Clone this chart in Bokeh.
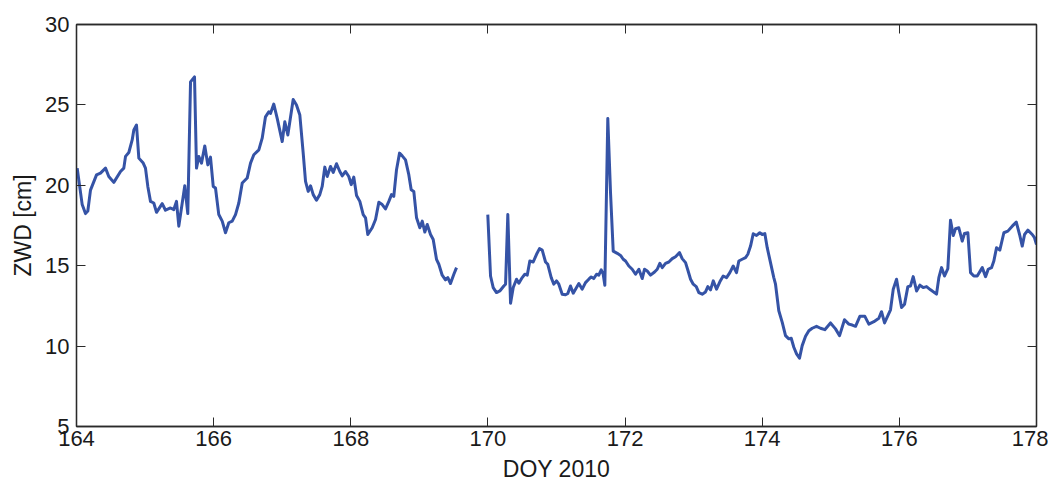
import numpy as np
from bokeh.plotting import figure
from bokeh.models import LinearAxis, FixedTicker, Range1d, CustomJSTickFormatter
from bokeh.embed import file_html
from bokeh.resources import INLINE

# DOY 2010 (days) and ZWD [cm]; NaN marks the data gap
doy = [
    164.010, 164.083, 164.131, 164.165, 164.204, 164.292, 164.350, 164.423, 164.471, 164.544,
    164.642, 164.690, 164.715, 164.763, 164.812, 164.836, 164.875, 164.909, 164.973, 165.006,
    165.040, 165.079, 165.127, 165.167, 165.250, 165.298, 165.371, 165.419, 165.458, 165.492,
    165.579, 165.623, 165.663, 165.721, 165.750, 165.784, 165.823, 165.871, 165.915, 165.954,
    165.994, 166.027, 166.075, 166.125, 166.173, 166.221, 166.271, 166.319, 166.367, 166.417,
    166.489, 166.538, 166.586, 166.659, 166.708, 166.756, 166.804, 166.829, 166.877, 166.927,
    167.000, 167.038, 167.082, 167.160, 167.208, 167.257, 167.306, 167.340, 167.379, 167.413,
    167.452, 167.500, 167.548, 167.583, 167.621, 167.656, 167.704, 167.744, 167.792, 167.840,
    167.875, 167.923, 167.971, 168.006, 168.044, 168.084, 168.132, 168.181, 168.215, 168.248,
    168.312, 168.361, 168.409, 168.458, 168.506, 168.555, 168.594, 168.627, 168.667, 168.711,
    168.750, 168.798, 168.846, 168.881, 168.919, 168.959, 169.007, 169.042, 169.080, 169.115,
    169.163, 169.202, 169.250, 169.284, 169.333, 169.381, 169.415, 169.454, 169.503, 169.542,
    169.770,
    169.998, 170.038, 170.077, 170.125, 170.173, 170.232, 170.257, 170.290, 170.330, 170.369,
    170.417, 170.451, 170.500, 170.538, 170.573, 170.611, 170.660, 170.709, 170.752, 170.792,
    170.840, 170.873, 170.923, 170.961, 171.000, 171.034, 171.083, 171.132, 171.165, 171.204,
    171.244, 171.292, 171.326, 171.375, 171.423, 171.471, 171.506, 171.544, 171.584, 171.617,
    171.652, 171.681, 171.705, 171.748, 171.788, 171.827, 171.886, 171.934, 171.973, 172.007,
    172.055, 172.104, 172.153, 172.201, 172.250, 172.284, 172.323, 172.371, 172.430, 172.469,
    172.507, 172.542, 172.590, 172.638, 172.688, 172.736, 172.794, 172.833, 172.882, 172.915,
    172.955, 172.994, 173.038, 173.076, 173.125, 173.173, 173.207, 173.246, 173.286, 173.334,
    173.382, 173.431, 173.480, 173.528, 173.577, 173.625, 173.659, 173.708, 173.757, 173.790,
    173.830, 173.869, 173.917, 173.965, 174.000, 174.038, 174.073, 174.121, 174.169, 174.194,
    174.242, 174.292, 174.340, 174.388, 174.423, 174.461, 174.501, 174.544, 174.583, 174.632,
    174.680, 174.729, 174.792, 174.850, 174.913, 174.996, 175.069, 175.128, 175.200, 175.263,
    175.313, 175.361, 175.424, 175.497, 175.555, 175.628, 175.701, 175.740, 175.784, 175.871,
    175.911, 175.959, 175.992, 176.032, 176.076, 176.124, 176.163, 176.202, 176.251, 176.299,
    176.348, 176.396, 176.455, 176.542, 176.576, 176.615, 176.659, 176.707, 176.746, 176.786,
    176.819, 176.867, 176.917, 176.950, 176.999, 177.038, 177.086, 177.136, 177.209, 177.257,
    177.296, 177.344, 177.378, 177.417, 177.465, 177.524, 177.582, 177.646, 177.705, 177.753,
    177.792, 177.826, 177.874, 177.938, 177.971, 178.000,
]
zwd = [
    21.07, 18.80, 18.24, 18.40, 19.70, 20.65, 20.76, 21.07, 20.55, 20.18,
    20.86, 21.07, 21.80, 22.04, 22.82, 23.44, 23.75, 21.69, 21.38, 21.07,
    19.93, 19.00, 18.90, 18.32, 18.86, 18.45, 18.59, 18.49, 19.00, 17.46,
    19.97, 18.24, 26.43, 26.74, 21.07, 21.79, 21.38, 22.45, 21.27, 21.75,
    19.93, 19.83, 18.18, 17.77, 17.05, 17.67, 17.77, 18.18, 18.90, 20.14,
    20.45, 21.38, 21.90, 22.20, 22.93, 24.26, 24.57, 24.47, 25.05, 24.16,
    22.72, 23.95, 23.13, 25.34, 24.99, 24.37, 22.00, 20.24, 19.62, 19.97,
    19.42, 19.07, 19.42, 19.93, 21.13, 20.55, 21.17, 20.80, 21.34, 20.86,
    20.59, 20.86, 20.55, 20.04, 20.51, 19.36, 19.00, 18.18, 17.98, 16.94,
    17.36, 17.87, 18.94, 18.80, 18.53, 19.00, 19.42, 19.31, 20.97, 22.00,
    21.83, 21.58, 20.66, 19.73, 19.62, 17.98, 17.36, 17.77, 17.09, 17.56,
    16.94, 16.63, 15.40, 15.09, 14.41, 14.12, 14.26, 13.89, 14.47, 14.88,
    float("nan"),
    18.18, 14.36, 13.64, 13.33, 13.43, 13.74, 13.85, 18.18, 12.67, 13.64,
    14.16, 13.91, 14.26, 14.47, 14.41, 15.29, 15.23, 15.71, 16.06, 15.97,
    15.23, 15.09, 14.26, 13.85, 14.06, 13.85, 13.23, 13.19, 13.27, 13.74,
    13.29, 13.64, 13.89, 13.54, 13.95, 14.16, 14.30, 14.20, 14.47, 14.41,
    14.74, 14.47, 13.79, 24.16, 19.52, 15.91, 15.77, 15.64, 15.40, 15.29,
    14.98, 14.78, 14.47, 14.78, 14.20, 14.78, 14.67, 14.41, 14.61, 14.78,
    15.15, 14.88, 15.15, 15.23, 15.44, 15.56, 15.81, 15.44, 15.19, 14.73,
    14.16, 13.85, 13.70, 13.33, 13.23, 13.37, 13.70, 13.50, 14.06, 13.54,
    14.00, 14.36, 14.26, 14.57, 14.98, 14.57, 15.29, 15.40, 15.50, 15.71,
    16.22, 16.99, 16.88, 17.05, 16.94, 17.00, 16.12, 15.19, 14.26, 13.85,
    12.20, 11.48, 10.65, 10.45, 10.49, 9.93, 9.52, 9.25, 10.03, 10.61,
    10.96, 11.11, 11.23, 11.11, 11.02, 11.44, 11.07, 10.65, 11.64, 11.37,
    11.31, 11.23, 11.85, 11.85, 11.37, 11.52, 11.73, 12.14, 11.44, 12.26,
    13.54, 14.16, 13.33, 12.40, 12.61, 13.70, 13.74, 14.32, 13.43, 13.79,
    13.64, 13.70, 13.50, 13.23, 14.26, 14.88, 14.36, 14.82, 17.83, 16.88,
    17.30, 17.36, 16.53, 17.00, 17.05, 14.57, 14.36, 14.36, 14.88, 14.32,
    14.78, 14.88, 15.29, 16.12, 15.97, 17.05, 17.15, 17.46, 17.71, 16.94,
    16.22, 16.94, 17.21, 16.94, 16.74, 16.32,
]

x_ticks = [164, 166, 168, 170, 172, 174, 176, 178]
y_ticks = [5, 10, 15, 20, 25, 30]

FONT = "Liberation Sans"
AXC = "#2a2a2a"

p = figure(width=1048, height=484, output_backend="svg", toolbar_location=None,
           x_range=Range1d(164, 178), y_range=Range1d(5, 30),
           min_border_left=76, min_border_right=12, min_border_top=24, min_border_bottom=57)
p.background_fill_color = "white"
p.border_fill_color = "white"
p.outline_line_color = AXC
p.outline_line_width = 1.3
p.grid.visible = False

p.line(doy, zwd, line_color="#3553a6", line_width=3, line_join="round")

def style(ax):
    ax.axis_line_color = AXC
    ax.axis_line_width = 1.3
    ax.major_tick_line_color = AXC
    ax.major_tick_line_width = 1
    ax.major_tick_in = 9
    ax.major_tick_out = 0
    ax.minor_tick_line_color = None
    ax.major_label_text_font = FONT
    ax.major_label_text_font_size = "22px"
    ax.major_label_text_color = "#1a1a1a"
    ax.axis_label_text_font = FONT
    ax.axis_label_text_font_size = "23px"
    ax.axis_label_text_font_style = "normal"
    ax.axis_label_text_color = "#1a1a1a"

p.xaxis.ticker = FixedTicker(ticks=x_ticks)
p.yaxis.ticker = FixedTicker(ticks=y_ticks)
style(p.xaxis[0]); style(p.yaxis[0])
p.xaxis.axis_label = "DOY 2010"
p.yaxis.axis_label = "ZWD [cm]"
p.xaxis.major_label_standoff = 4
p.xaxis.axis_label_standoff = 7
p.yaxis.major_label_standoff = 7
p.yaxis.axis_label_standoff = 6

blank = CustomJSTickFormatter(code="return '';")
top = LinearAxis(ticker=FixedTicker(ticks=x_ticks), formatter=blank)
right = LinearAxis(ticker=FixedTicker(ticks=y_ticks), formatter=blank)
style(top); style(right)
for ax in (top, right):
    ax.major_label_standoff = 0
    ax.major_label_text_font_size = "1px"
p.add_layout(top, "above")
p.add_layout(right, "right")

open("out.html", "w").write(file_html(p, INLINE))
